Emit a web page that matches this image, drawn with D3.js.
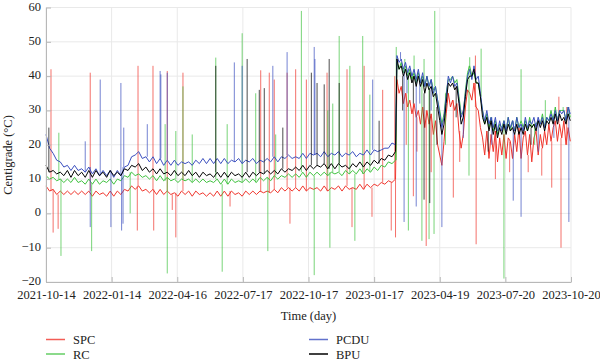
<!DOCTYPE html>
<html><head><meta charset="utf-8">
<script src="https://cdn.jsdelivr.net/npm/d3@7"></script>
<style>body{margin:0;background:#fff}text{font-family:"Liberation Serif","DejaVu Serif",serif;fill:#222}</style>
</head><body><svg id="c" width="600" height="364"></svg>
<script>
// ---------- data ----------
const startDate = "2021-10-14";
const endDate = "2023-10-20";
const xTickLabels = ["2021-10-14","2022-01-14","2022-04-16","2022-07-17","2022-10-17","2023-01-17","2023-04-19","2023-07-20","2023-10-20"];
const yTicks = [-20,-10,0,10,20,30,40,50,60];
const seriesNames = ["SPC","RC","PCDU","BPU"];
const seriesColors = ["#f0352c","#3fc23f","#3b4fbf","#000000"];

// period 1: day 0..490, every 5 days ; period 2: day 492..735, every 3 days
const step1 = 5, start2 = 492, step2 = 3;

const spc1 = [8,6.5,7,5.5,6.5,5.5,6.5,5.5,6.5,5.5, 6.5,5.5,6.5,5,6.5,5.5,6,5,6.5,5, 6.5,5.5,7,6.5,8,7,8,6.5,7,6,
  7,5.5,7,5.5,6.5,5.5,6,5,6.5,5.5, 6.5,5,6.5,5.5,6,5,6,5,6.5,5, 6.5,5,6.5,5.5,6,5,6.5,5.5,6.5,5.5,
  6.5,6,6.5,6,7,6,7.5,6.5,7.5,6.5, 7.5,6.5,8,6.5,7.5,7,7.5,6.5,8,6.5, 7.5,7,8,6.5,8,7,7.5,7,8.5,7, 8.5,7.5,8.5,8,9,8.5,9.5,9,10];
const rc1 = [11,10,10.5,9.5,10,9,10,9,10.5,9, 9.5,8.5,10,8.5,10,8.5,9.5,9,10,8.5, 10,9.5,11,10.5,12,11,11.5,10.5,11,10,
  11,9.5,11,9.5,10.5,9.5,10,9,10,9.5, 10,9,10,9,10,9,9.5,9,10,8.5, 10,8.5,10,9,9.5,9,10,9,10,9,
  10.5,9.5,10.5,9.5,11,10,11,10.5,11.5,10.5, 11.5,10.5,12,10.5,12,11,12,11,12,11, 12,11.5,12,11,12.5,11.5,12.5,11.5,13,11.5, 13,12,13.5,12.5,14,13.5,15,14.5,15.5];
const pcdu1 = [23,19,17.5,15.5,15,13.5,14,12.5,14,12.5, 13,12,13.5,11.5,13,11,12.5,11,12.5,10.5, 12.5,11,13.5,14,16.5,17,18,16,16.5,15,
  16.5,14.5,16,14,15.5,14,15.5,14,15,14.5, 15,14,15.5,14.5,16,14.5,16,14.5,16,14.5, 16,14.5,15.5,15,16,14.5,15.5,15,16,14.5,
  15.5,15,16,15,16.5,15,16.5,16,17,16, 16.5,16,17.5,16,17.5,17,17.5,16.5,18,16.5, 17.5,17,18,16.5,17.5,17,18,16.5,17.5,17, 18.5,17,18.5,18,18.5,19,19,20.5,20];
const bpu1 = [14,12,12.5,11.5,12,11,12.5,10.5,12.5,11, 12,10.5,12.5,10.5,12.5,11,12,10.5,12.5,11, 12,11,13,12.5,14,13.5,14.5,12.5,13.5,12,
  13,11.5,13,11.5,12,11,12.5,11,12,11, 12.5,11,12,10.5,12,11,11.5,10.5,12,10.5, 12,10.5,12,11,11.5,10.5,12,10.5,12,11,
  12,11.5,12.5,11.5,12.5,11.5,13,12,13,12.5, 13.5,12.5,14,12.5,14,13,14,13.5,14.5,13, 14.5,13,14.5,13.5,14,13,14.5,13.5,15,13.5, 15,14,15.5,14.5,16,15.5,17,16.5,18];

const spc2 = [39,35,37,32,35,31,33,29,32,28, 30,26,31,25,30,26,29,23,27,20, 17,14,21,29,35,31,33,30,32,24,
  19,23,31,36,35,33,38,31,30,25, 22,17,24,16,23,18,24,15,22,17, 23,16,22,21,16,23,18,25,16,22,
  24,17,23,15,22,24,17,23,19,24, 20,26,21,25,27,21,26,22,27,20,25,21];
const rc2 = [44,42,44,41,43,40,42,39,41,38, 41,38,40,37,40,37,39,36,37,33, 30,26,29,35,39,39,40,38,39,34,
  29,29,36,41,43,40,41,38,38,34, 30,26,29,25,28,24,27,23,26,25, 27,24,28,24,27,24,28,25,27,25,
  27,24,28,25,26,26,27,26,29,25, 28,27,30,27,31,27,30,30,30,27,31,28];
const pcdu2 = [46,44,45,42,44,41,43,40,42,39, 42,38,41,37,40,37,39,35,37,33, 29,25,28,34,40,38,40,37,38,33,
  28,30,35,40,42,39,43,39,40,35, 30,27,30,26,28,25,28,24,27,24, 27,24,28,25,27,24,28,25,26,24,
  28,25,27,26,28,25,28,26,28,25, 28,27,29,27,30,27,30,29,30,27,31,29];
const bpu2 = [45,42,43,40,42,39,41,38,40,37, 40,37,39,35,38,36,37,34,35,31, 27,23,26,32,38,37,38,36,37,32,
  26,28,34,39,40,40,42,38,38,34, 28,26,28,24,27,23,26,22,25,23, 26,23,26,24,25,23,26,23,25,23,
  26,24,26,25,26,24,27,25,27,24, 27,26,28,26,29,26,29,27,28,26,29,27];

// spikes: [day since start, value]
const spcSpikes = [[7,42],[10,-5.6],[17,-4.5],[62,41],[128,-5],[129,43],[150,43],[151,-5],[170,41.5],[177,1],[182,-7],[192,41],
  [258,2],[301,41.7],[313,41],[320,39],[338,41],[342,-3],[350,42],[365,39],[394,41],[422,42],[429,-4],[446,43],[457,-1],
  [472,36],[484,-5],[489,40],[490,-7],[505,20],[515,5],[520,18],[533,-9.5],[540,12],[571,4.6],[580,15],[602,46],[603,-9],
  [630,10],[650,12],[676,12],[695,11],[709,7.5],[719,34],[722,-10],[730,31]];
const rcSpikes = [[18,23.5],[21,-12.4],[64,-11],[118,0],[167,26],[170,-17.5],[182,24],[192,37],[205,23],[238,45.4],[247,-17],
  [254,26],[275,52.5],[294,35],[311,-11],[322,23],[358,59],[376,-18],[395,30],[398,-10],[402,32],[411,51.7],[426,43],[433,-8],
  [444,51.7],[454,34.6],[491,48.5],[503,45],[508,-5],[516,46],[527,-8],[530,45],[537,-7.5],[544,-6],[545,59],[560,20],
  [593,11],[594,45.5],[610,48],[642,-19],[666,42],[685,20],[700,33],[725,31]];
const pcduSpikes = [[55,21],[62,-4],[76,39],[91,-4],[105,38],[106,-5],[108,-3],[109,25],[142,26],[160,41.5],[161,40.5],[170,41],
  [264,44],[275,43],[318,43],[338,47],[376,48.5],[377,45],[458,39],[497,47],[502,-2.5],[506,35],[519,2],[524,32],[540,30],
  [555,-4],[585,22],[625,20],[655,3.7],[666,-1],[690,18],[712,22],[733,-2.5]];
const bpuSpikes = [[4,25],[238,43],[282,45],[299,36],[306,36.5],[332,25],[372,41],[380,38],[390,37.6],[397,45],[411,38],[467,27],
  [500,30],[515,32],[530,4],[538,3],[548,20],[575,28],[620,18],[680,20]];

// ---------- chart ----------
const svg = d3.select("#c");
const parse = d3.utcParse("%Y-%m-%d");
const t0 = parse(startDate);
const dayToDate = d => d3.utcDay.offset(t0, d);
const x = d3.scaleUtc().domain([t0, parse(endDate)]).range([46, 571]);
const y = d3.scaleLinear().domain([-20, 60]).range([282, 7.5]);
const xTickDates = xTickLabels.map(parse);

// grid
const g = svg.append("g");
g.selectAll(".gy").data(yTicks).join("line")
  .attr("x1", 46).attr("x2", 571).attr("y1", d => y(d)).attr("y2", d => y(d))
  .attr("stroke", "#e9e9e9").attr("stroke-width", 1);
g.selectAll(".gx").data(xTickDates).join("line")
  .attr("x1", d => x(d)).attr("x2", d => x(d)).attr("y1", y(-20)).attr("y2", y(60))
  .attr("stroke", "#e9e9e9").attr("stroke-width", 1);

const p1 = [spc1, rc1, pcdu1, bpu1];
const p2 = [spc2, rc2, pcdu2, bpu2];
const spikes = [spcSpikes, rcSpikes, pcduSpikes, bpuSpikes];

const line = d3.line().x(p => x(dayToDate(p.d))).y(p => y(p.v));
const plot = svg.append("g");

seriesNames.forEach((name, k) => {
  const pts = p1[k].map((v, i) => ({d: i * step1, v}))
    .concat(p2[k].map((v, i) => ({d: start2 + i * step2, v})));
  const nearest = d => pts.reduce((a, b) => Math.abs(b.d - d) < Math.abs(a.d - d) ? b : a);
  plot.append("g").selectAll("line").data(spikes[k]).join("line")
    .attr("x1", s => x(dayToDate(s[0]))).attr("x2", s => x(dayToDate(s[0])))
    .attr("y1", s => y(nearest(s[0]).v)).attr("y2", s => y(s[1]))
    .attr("stroke", seriesColors[k]).attr("stroke-width", 1).attr("stroke-opacity", 0.7);
  plot.append("path").datum(pts).attr("d", line)
    .attr("fill", "none").attr("stroke", seriesColors[k]).attr("stroke-width", 1)
    .attr("stroke-linejoin", "round");
});

// axes
const xAxis = d3.axisBottom(x).tickValues(xTickDates)
  .tickFormat((d, i) => xTickLabels[i]).tickSizeInner(-5).tickSizeOuter(0).tickPadding(8);
const ax = svg.append("g").attr("transform", `translate(0,${y(-20)})`).call(xAxis);
const yAxis = d3.axisLeft(y).tickValues(yTicks).tickSizeInner(-5).tickSizeOuter(0).tickPadding(5);
const ay = svg.append("g").attr("transform", `translate(46,0)`).call(yAxis);
[ax, ay].forEach(a => {
  a.attr("font-family", null);
  a.select(".domain").attr("stroke", "#b8b8b8");
  a.selectAll(".tick line").attr("stroke", "#b8b8b8");
  a.selectAll("text").style("font-family", '"Liberation Serif", serif').style("font-size", "12.5px").attr("fill", "#222");
});
ay.selectAll("text").attr("dy", "0.2em");

svg.append("text").attr("x", 308.5).attr("y", 320).attr("text-anchor", "middle")
  .style("font-size", "12.5px").text("Time (day)");
svg.append("text").attr("transform", "translate(12,155) rotate(-90)").attr("text-anchor", "middle")
  .style("font-size", "12.5px").text("Centigrade (°C)");

// legend
const legendPos = [[46, 339.5], [46, 354], [309, 339.5], [309, 354]];
seriesNames.forEach((name, k) => {
  const [lx, ly] = legendPos[k];
  svg.append("line").attr("x1", lx).attr("x2", lx + 19).attr("y1", ly).attr("y2", ly)
    .attr("stroke", seriesColors[k]).attr("stroke-width", 1.5).attr("stroke-opacity", k === 3 ? 1 : 0.8);
  svg.append("text").attr("x", lx + 27).attr("y", ly + 4.5).style("font-size", "12.5px").text(name);
});
</script></body></html>
